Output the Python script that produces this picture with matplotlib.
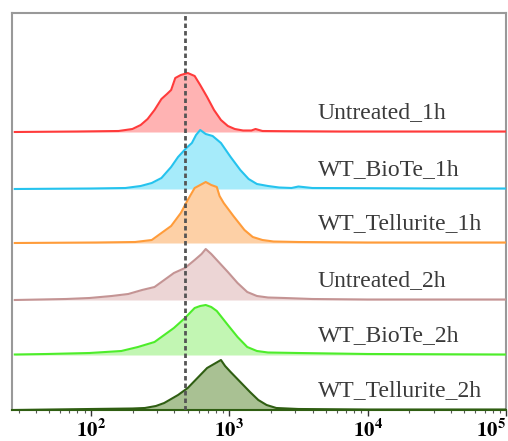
import matplotlib
matplotlib.use("Agg")
import matplotlib.pyplot as plt
import numpy as np
from matplotlib.ticker import FixedLocator, LogLocator, NullFormatter

plt.rcParams['mathtext.fontset'] = 'stix'

# ---- data (log10 of fluorescence intensity, histogram counts) ----
labels = ["Untreated_1h", "WT_BioTe_1h", "WT_Tellurite_1h",
          "Untreated_2h", "WT_BioTe_2h", "WT_Tellurite_2h"]

lx_untreated_1h = [1.45, 1.9, 2.2, 2.3, 2.36, 2.41, 2.46, 2.51, 2.55, 2.58, 2.61, 2.65, 2.70, 2.75,
                   2.79, 2.84, 2.89, 2.94, 2.99, 3.04, 3.10, 3.16, 3.19, 3.24, 3.4, 3.8, 4.3, 5.0]
h_untreated_1h = [0, 0.5, 1, 3, 7, 13, 22, 33, 38, 42, 54, 57, 59, 56,
                  47, 35, 22, 12, 6, 3, 1.5, 1.5, 3, 1, 0.8, 0.5, 0.5, 0.5]

lx_biote_1h = [1.45, 2.0, 2.25, 2.36, 2.44, 2.51, 2.58, 2.63, 2.69, 2.73, 2.76, 2.79, 2.83, 2.88,
               2.94, 3.01, 3.08, 3.14, 3.2, 3.28, 3.36, 3.45, 3.5, 3.6, 4.0, 4.5, 5.0]
h_biote_1h = [0, 0.5, 1, 3, 6, 11, 22, 32, 41, 46, 54, 59, 55, 53,
              46, 32, 19, 10, 5, 3, 1.5, 1, 2.5, 1, 0.8, 0.5, 0.5]

lx_tellurite_1h = [1.45, 2.04, 2.32, 2.44, 2.51, 2.58, 2.65, 2.70, 2.75, 2.79, 2.83, 2.87, 2.91,
                   2.93, 2.96, 3.03, 3.11, 3.17, 3.24, 3.32, 3.5, 4.0, 5.0]
h_tellurite_1h = [0, 0.5, 1, 3, 10, 17, 30, 43, 55, 58, 61, 58, 56,
                  47, 40, 27, 13, 6, 3, 1.5, 1, 0.5, 0.5]

lx_untreated_2h = [1.45, 1.82, 1.99, 2.15, 2.27, 2.37, 2.46, 2.53, 2.60, 2.68, 2.75, 2.80, 2.83,
                   2.87, 2.91, 2.99, 3.06, 3.13, 3.2, 3.28, 3.4, 3.6, 4.0, 5.0]
h_untreated_2h = [0, 1, 2, 4, 6, 10, 13, 20, 27, 32, 40, 46, 51,
                  46, 40, 28, 17, 8, 4, 2.5, 2, 1, 0.5, 0.5]

lx_biote_2h = [1.45, 1.68, 1.99, 2.22, 2.34, 2.46, 2.53, 2.60, 2.68, 2.75, 2.79, 2.83, 2.87, 2.91,
               2.99, 3.06, 3.13, 3.2, 3.28, 3.5, 4.0, 5.0]
h_biote_2h = [0.5, 1, 2, 4, 8, 13, 20, 27, 37, 47, 49, 50, 48, 44,
              30, 18, 8, 4, 2.5, 2, 1, 0.5]

lx_tellurite_2h = [1.45, 2.0, 2.3, 2.39, 2.47, 2.53, 2.63, 2.70, 2.77, 2.84, 2.89, 2.94, 2.97,
                   3.01, 3.08, 3.15, 3.21, 3.27, 3.34, 3.5, 4.0, 5.0]
h_tellurite_2h = [0, 1, 1.5, 2, 4, 7, 15, 22, 32, 42, 46, 50, 44,
                  38, 28, 18, 10, 5, 2, 1, 0.5, 0.5]

gate_value = 480  # dashed gate line position (intensity)

tick_values = [1e2, 1e3, 1e4, 1e5]
tick_labels = [r'$\mathbf{10^{2}}$', r'$\mathbf{10^{3}}$', r'$\mathbf{10^{4}}$', r'$\mathbf{10^{5}}$']

# ---- styling / layout ----
series_x = [lx_untreated_1h, lx_biote_1h, lx_tellurite_1h, lx_untreated_2h, lx_biote_2h, lx_tellurite_2h]
series_h = [h_untreated_1h, h_biote_1h, h_tellurite_1h, h_untreated_2h, h_biote_2h, h_tellurite_2h]
offsets = [278, 221, 167, 110, 55, 0]
line_colors = ['#ff3b3b', '#25c3ee', '#ff9c3a', '#c49494', '#4ded2a', '#2f5e12']
fill_colors = ['#ffb3b3', '#a6ebfa', '#fdd0a6', '#ecd5d5', '#c2f6b3', '#a9c193']

W, H = 508, 441
fig = plt.figure(figsize=(W / 100, H / 100), dpi=100)
ax = fig.add_axes([12 / W, 1 - 410 / H, (506 - 12) / W, (410 - 13) / H])

for lx, h, off, lc, fc, lab in zip(series_x, series_h, offsets, line_colors, fill_colors, labels):
    x = 10 ** np.asarray(lx)
    y = off + np.asarray(h, dtype=float)
    ax.fill_between(x, off, y, color=fc, lw=0, zorder=2)
    ax.plot(x, y, color=lc, lw=1.5, zorder=3, solid_joinstyle='round')
    ax.text(10 ** 3.64, off + 14, lab, family='Liberation Serif', fontsize=17,
            color='#3a3a3a', ha='left', va='baseline', zorder=5)

ax.axvline(gate_value, color='#555555', lw=2.0, ls=(0, (1.6, 1.1)), zorder=4)

ax.set_xscale('log')
ax.set_xlim(10 ** 1.43, 1e5)
ax.set_ylim(0, 397)
ax.set_yticks([])

ax.xaxis.set_major_locator(FixedLocator(tick_values))
ax.set_xticklabels(tick_labels, fontsize=15)
ax.xaxis.set_minor_locator(LogLocator(base=10, subs=np.arange(2, 10)))
ax.xaxis.set_minor_formatter(NullFormatter())
ax.tick_params(axis='x', which='major', direction='out', length=4, width=1, color='#333333', pad=2)
ax.tick_params(axis='x', which='minor', direction='out', length=2.5, width=0.8, color='#555555')
ax.get_xticklabels()[-1].set_ha('right')

for side in ['top', 'left', 'right']:
    ax.spines[side].set_color('#999999')
    ax.spines[side].set_linewidth(1.5)
ax.spines['bottom'].set_color('#2f5e12')
ax.spines['bottom'].set_linewidth(1.5)

fig.savefig('out.png', dpi=100)
